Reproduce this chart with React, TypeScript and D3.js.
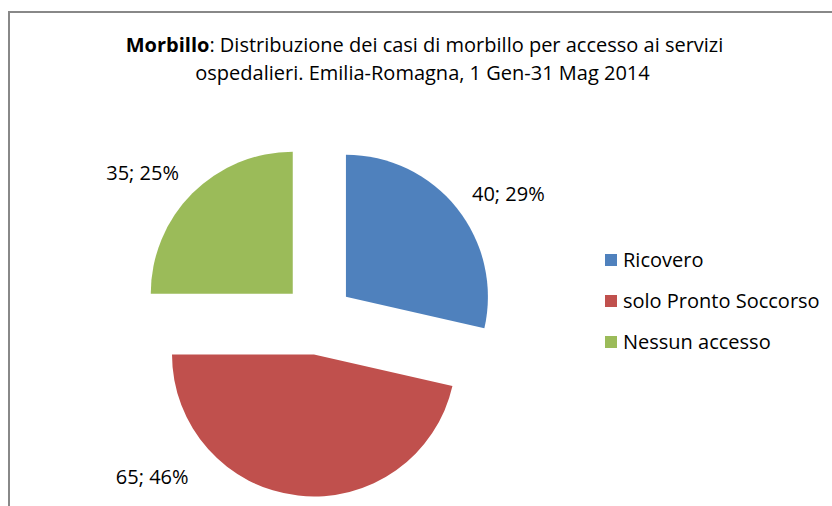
import React from 'react';
import * as d3 from 'd3';

const categories = ['Ricovero', 'solo Pronto Soccorso', 'Nessun accesso'];
const cases = [40, 65, 35];
const percents = [29, 46, 25];
const colors = ['#4F81BD', '#C0504D', '#9BBB59'];

const W = 832;
const H = 506;
const FONT = '"Open Sans", "Liberation Sans", Arial, sans-serif';
const FS = 20;

const App = () => {
  const cx = 318;
  const cy = 319;
  const radius = 142;
  const explode = 35.7;

  const pie = d3.pie<number>().sort(null).value(d => d);
  const arcs = pie(cases);
  const arc = d3.arc<d3.PieArcDatum<number>>().innerRadius(0).outerRadius(radius);

  // label placement (Excel "best fit"), polar around the pie centre
  const labelPolar = [
    { angle: 56.6, dist: 228 },
    { angle: 226.4, dist: 229 },
    { angle: 309.7, dist: 228 },
  ];

  const polar = (deg: number, dist: number) => {
    const a = (deg * Math.PI) / 180;
    return [Math.sin(a) * dist, -Math.cos(a) * dist];
  };

  const legendY = d3.scalePoint<string>().domain(categories).range([260, 342]);

  return (
    <svg width={W} height={H} style={{ position: 'absolute', left: 0, top: 0 }} fontFamily={FONT}>
      <rect x={0} y={0} width={W} height={H} fill="#fff" />
      <path d={`M9,${H} V12 H${W}`} fill="none" stroke="#888" strokeWidth={2} />

      <text x={424.5} y={52} textAnchor="middle" fontSize={FS} fill="#000">
        <tspan fontWeight="bold">Morbillo</tspan>: Distribuzione dei casi di morbillo per accesso ai servizi
      </text>
      <text x={422.5} y={80} textAnchor="middle" fontSize={FS} fill="#000">
        ospedalieri. Emilia-Romagna, 1 Gen-31 Mag 2014
      </text>

      <g transform={`translate(${cx},${cy})`}>
        {arcs.map((a, i) => {
          const mid = (a.startAngle + a.endAngle) / 2;
          const dx = Math.sin(mid) * explode;
          const dy = -Math.cos(mid) * explode;
          return (
            <path
              key={categories[i]}
              d={arc(a) || ''}
              transform={`translate(${dx},${dy})`}
              fill={colors[i]}
            />
          );
        })}
        {arcs.map((a, i) => {
          const [lx, ly] = polar(labelPolar[i].angle, labelPolar[i].dist);
          return (
            <text key={'l' + i} x={lx} y={ly} dy="0.35em" textAnchor="middle" fontSize={FS} fill="#000">
              {`${cases[i]}; ${percents[i]}%`}
            </text>
          );
        })}
      </g>

      <g>
        {categories.map((c, i) => (
          <g key={c} transform={`translate(0,${legendY(c)})`}>
            <rect x={605} y={-6} width={12} height={12} fill={colors[i]} />
            <text x={623} y={0} dy="0.35em" fontSize={FS} fill="#000">{c}</text>
          </g>
        ))}
      </g>
    </svg>
  );
};

export default App;
